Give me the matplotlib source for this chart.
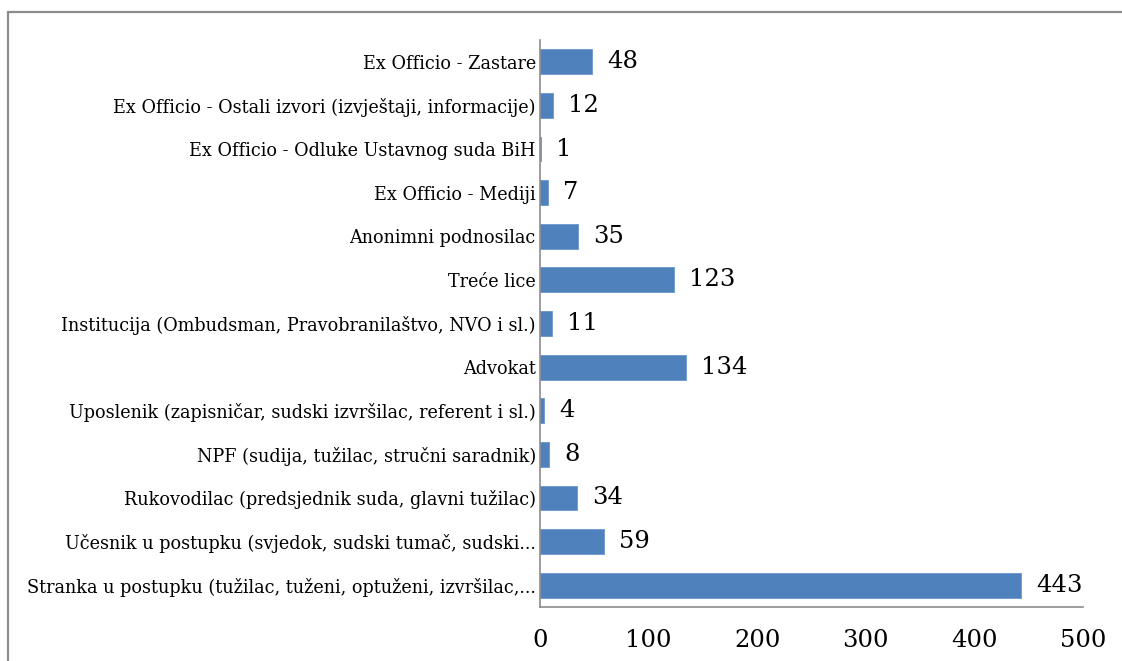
import matplotlib.pyplot as plt
from matplotlib.patches import Rectangle

categories = [
    "Ex Officio - Zastare",
    "Ex Officio - Ostali izvori (izvještaji, informacije)",
    "Ex Officio - Odluke Ustavnog suda BiH",
    "Ex Officio - Mediji",
    "Anonimni podnosilac",
    "Treće lice",
    "Institucija (Ombudsman, Pravobranilaštvo, NVO i sl.)",
    "Advokat",
    "Uposlenik (zapisničar, sudski izvršilac, referent i sl.)",
    "NPF (sudija, tužilac, stručni saradnik)",
    "Rukovodilac (predsjednik suda, glavni tužilac)",
    "Učesnik u postupku (svjedok, sudski tumač, sudski...",
    "Stranka u postupku (tužilac, tuženi, optuženi, izvršilac,...",
]
values = [48, 12, 1, 7, 35, 123, 11, 134, 4, 8, 34, 59, 443]
xticks = [0, 100, 200, 300, 400, 500]

plt.rcParams['font.family'] = ['DejaVu Serif']

fig = plt.figure(figsize=(11.22, 6.61), dpi=100)
W, H = 1122, 661

# outer chart frame, runs off the right and bottom edges
fig.patches.append(Rectangle((8 / W, -0.1), 1.2, 1 - 12 / H + 0.1,
                             transform=fig.transFigure, fill=False,
                             edgecolor='#8c8c8c', linewidth=1.6))

ax = fig.add_axes([540 / W, 1 - 607 / H, (1083 - 540) / W, (607 - 40) / H])

ypos = list(range(len(categories)))
ax.barh(ypos, values, height=0.57, color='#4F81BD', edgecolor='#6a97cc', linewidth=0.6)

for y, v in zip(ypos, values):
    ax.annotate(str(v), (v, y), xytext=(11, 0), textcoords='offset points',
                ha='left', va='center', fontsize=17.5)

ax.set_yticks(ypos)
ax.set_yticklabels(categories, fontsize=12.7)
ax.set_ylim(len(categories) - 0.5, -0.5)
ax.set_xlim(0, 500)
ax.set_xticks(xticks)
ax.set_xticklabels([str(t) for t in xticks], fontsize=17.5)
ax.tick_params(axis='both', length=0)
ax.tick_params(axis='y', pad=3)
ax.tick_params(axis='x', pad=16)

for side in ['top', 'right']:
    ax.spines[side].set_visible(False)
for side in ['left', 'bottom']:
    ax.spines[side].set_color('#8c8c8c')
    ax.spines[side].set_linewidth(1.2)

fig.savefig('out.png', dpi=100)
